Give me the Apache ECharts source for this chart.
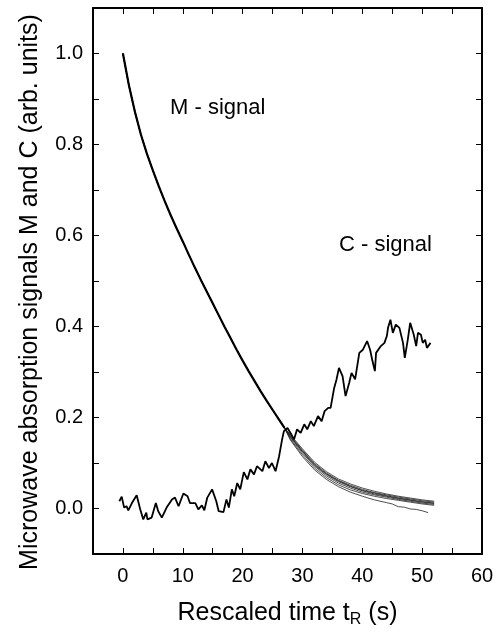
<!DOCTYPE html>
<html>
<head>
<meta charset="utf-8">
<script src="https://cdn.jsdelivr.net/npm/echarts@6/dist/echarts.min.js"></script>
<style>
html,body{margin:0;padding:0;background:#fff;}
#chart{width:500px;height:635px;}
</style>
</head>
<body>
<div id="chart"></div>
<script>
// ---- data ----
var xTicks = [0, 10, 20, 30, 40, 50, 60];
var yTicks = [0.0, 0.2, 0.4, 0.6, 0.8, 1.0];

// M-signal: shared head (t = 0..27)
var mHeadT = [0,1,2,3,4,5,6,7,8,9,10,11,12,13,14,15,16,17,18,19,20,21,22,23,24,25,26,27];
var mHeadY = [1.000,0.930,0.872,0.822,0.780,0.743,0.708,0.675,0.644,0.615,0.587,0.558,0.530,0.503,0.477,0.451,0.425,0.399,0.374,0.349,0.325,0.302,0.280,0.258,0.237,0.217,0.197,0.177];

// M-signal tails (t = 28..52)
var mTailT = [28,30,32,34,36,38,40,42,44,46,48,50,52];
var mTail1 = [0.162,0.131,0.102,0.081,0.065,0.054,0.045,0.038,0.032,0.027,0.023,0.019,0.016];
var mTail2 = [0.160,0.128,0.099,0.078,0.062,0.051,0.042,0.035,0.030,0.025,0.021,0.017,0.014];
var mTail3 = [0.158,0.126,0.097,0.076,0.061,0.049,0.040,0.034,0.028,0.023,0.019,0.015,0.012];
var mTail4 = [0.157,0.125,0.095,0.075,0.059,0.048,0.039,0.032,0.027,0.022,0.018,0.014,0.011];
var mTail5 = [0.155,0.122,0.093,0.072,0.056,0.045,0.036,0.030,0.025,0.020,0.016,0.012,0.009];
var mTail6 = [0.152,0.118,0.089,0.068,0.052,0.041,0.033,0.027,0.022,0.018,0.014,0.010,0.007];
var mTail7T = [28,30,32,34,36,38,40,42,44,45,46,47,48,49,50,51];
var mTail7 = [0.150,0.114,0.085,0.064,0.048,0.036,0.027,0.019,0.013,0.010,0.004,0.003,-0.001,-0.002,-0.005,-0.009];

// C-signal
var cT = [-0.6,-0.2,0.2,0.6,0.9,1.5,1.8,2.3,2.9,3.4,3.9,4.1,4.8,5.5,5.9,6.5,7.3,8.2,8.7,9.3,10.1,10.8,11.2,12.1,12.6,13.2,13.6,14.1,14.9,15.6,16.0,16.8,17.3,17.7,18.2,18.6,19.1,19.6,20.2,20.8,21.3,21.9,22.4,23.3,23.8,24.4,24.9,25.5,26.1,26.6,26.9,27.5,28.0,28.6,29.1,29.7,30.3,30.8,31.4,31.9,32.6,33.2,33.7,34.3,34.7,35.3,35.7,36.1,36.7,37.2,37.8,38.2,38.8,39.5,40.1,40.8,41.3,41.7,42.1,42.3,43.1,43.7,44.1,44.3,44.7,45.1,45.6,46.2,46.8,47.1,47.6,48.0,48.6,49.0,49.3,49.8,50.1,50.5,50.8,51.4];
var cY = [0.016,0.026,0.002,0.005,-0.004,0.012,0.016,0.029,-0.002,-0.024,-0.009,-0.024,-0.020,0.012,-0.006,-0.020,0.002,0.020,0.024,0.005,0.033,0.027,0.012,0.012,-0.002,0.007,-0.004,0.024,0.042,0.016,-0.006,-0.008,0.020,0.002,0.042,0.027,0.056,0.042,0.080,0.064,0.086,0.075,0.093,0.082,0.104,0.089,0.100,0.082,0.115,0.152,0.170,0.177,0.166,0.152,0.174,0.166,0.185,0.174,0.192,0.181,0.203,0.192,0.214,0.221,0.221,0.265,0.284,0.309,0.291,0.247,0.276,0.298,0.284,0.342,0.349,0.368,0.349,0.324,0.302,0.342,0.357,0.364,0.379,0.397,0.415,0.386,0.404,0.397,0.364,0.331,0.371,0.408,0.382,0.357,0.386,0.382,0.364,0.371,0.353,0.364];

// ---- build ----
function pairs(t, y) { return t.map(function (v, i) { return [v, y[i]]; }); }
function mCurve(tailT, tailY) { return pairs(mHeadT.concat(tailT), mHeadY.concat(tailY)); }

var FONT = "'Liberation Sans', Arial, sans-serif";
var mTails = [mTail1, mTail2, mTail3, mTail4, mTail5, mTail6];
var series = mTails.map(function (tail) {
  return { type: 'line', data: mCurve(mTailT, tail), showSymbol: false, symbol: 'none',
           lineStyle: { color: '#222', width: 0.8 }, animation: false };
});
series.push({ type: 'line', data: mCurve(mTail7T, mTail7), showSymbol: false, symbol: 'none',
              lineStyle: { color: '#222', width: 0.8 }, animation: false });
series.push({ type: 'line', data: pairs(mHeadT, mHeadY), showSymbol: false, symbol: 'none',
              lineStyle: { color: '#000', width: 2.2 }, animation: false });
series.push({ type: 'line', data: pairs(cT, cY), showSymbol: false, symbol: 'none',
              lineStyle: { color: '#000', width: 1.8 }, animation: false });

function xFmt(v) { return xTicks.indexOf(Math.round(v)) >= 0 && Math.abs(v - Math.round(v)) < 1e-6 ? String(Math.round(v)) : ''; }
function yFmt(v) {
  for (var i = 0; i < yTicks.length; i++) if (Math.abs(v - yTicks[i]) < 1e-6) return yTicks[i].toFixed(1);
  return '';
}

var GRID_W = 389, GRID_H = 546;
function line(show) { return { show: show, onZero: false, lineStyle: { color: '#000', width: 2 } }; }
function xAx(pos, offset, lineShow, tickShow, inside) {
  return { type: 'value', min: -5, max: 60, interval: 5, position: pos, offset: offset,
           axisLine: line(lineShow), axisTick: { show: tickShow, inside: inside, length: 6 },
           splitLine: { show: false }, axisLabel: { show: false } };
}
function yAx(pos, offset, lineShow, tickShow, inside) {
  return { type: 'value', min: -0.1, max: 1.1, interval: 0.1, position: pos, offset: offset,
           axisLine: line(lineShow), axisTick: { show: tickShow, inside: inside, length: 6 },
           splitLine: { show: false }, axisLabel: { show: false } };
}

var xMain = xAx('bottom', 0, true, false, false);
xMain.axisLabel = { show: true, formatter: xFmt, color: '#000', fontFamily: FONT, fontSize: 20, margin: 12 };
xMain.name = '{a|Rescaled time t}{s|R}{a| (s)}';
xMain.nameLocation = 'middle';
xMain.nameGap = 44;
xMain.nameTextStyle = { fontFamily: FONT, color: '#000',
  rich: { a: { fontSize: 25, fontFamily: FONT, color: '#000' },
          s: { fontSize: 16, fontFamily: FONT, color: '#000', padding: [14, 0, 0, 0] } } };

var yMain = yAx('left', 0, true, true, true);
yMain.axisLabel = { show: true, formatter: yFmt, color: '#000', fontFamily: FONT, fontSize: 20, margin: 10 };

var option = {
  backgroundColor: '#fff',
  animation: false,
  grid: { left: 93, top: 8, right: 18, bottom: 81, containLabel: false },
  xAxis: [
    xMain,
    xAx('top', -GRID_H, false, true, false),     // upward ticks along the bottom edge
    xAx('bottom', -GRID_H, true, true, false)    // top frame with downward ticks
  ],
  yAxis: [
    yMain,
    yAx('left', -GRID_W, true, true, false)      // right frame with leftward ticks
  ],
  graphic: [
    { type: 'text', x: 30, y: 292, rotation: Math.PI / 2,
      style: { text: 'Microwave absorption signals M and C (arb. units)', font: '25px ' + FONT,
               fill: '#000', align: 'center', verticalAlign: 'middle', textAlign: 'center', textVerticalAlign: 'middle' } },
    { type: 'text', x: 170, y: 108,
      style: { text: 'M - signal', font: '22px ' + FONT, fill: '#000', verticalAlign: 'middle', textVerticalAlign: 'middle' } },
    { type: 'text', x: 339, y: 245,
      style: { text: 'C - signal', font: '22px ' + FONT, fill: '#000', verticalAlign: 'middle', textVerticalAlign: 'middle' } }
  ],
  series: series
};

var chart = echarts.init(document.getElementById('chart'), null, { renderer: 'canvas' });
chart.setOption(option);
</script>
</body>
</html>
